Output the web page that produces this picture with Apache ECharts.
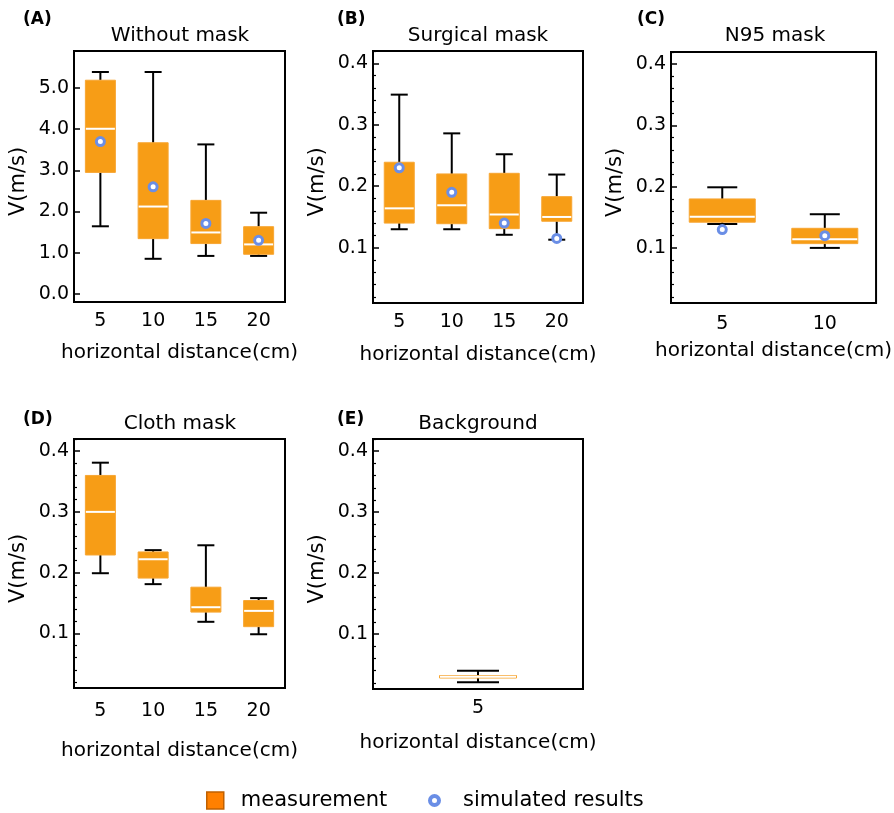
<!DOCTYPE html>
<html>
<head>
<meta charset="utf-8">
<script src="https://cdn.jsdelivr.net/npm/echarts@6/dist/echarts.min.js"></script>
<style>
html,body{margin:0;padding:0;background:#fff;}
#chart{width:894px;height:813px;}
</style>
</head>
<body>
<div id="chart"></div>
<script>
// ---------------- data ----------------
const cats4 = ['5', '10', '15', '20'];
const cats2 = ['5', '10'];
const cats1 = ['5'];

// each row: [lower whisker, Q1, median, Q3, upper whisker]
const withoutMask = [
  [1.64, 2.95, 4.01, 5.19, 5.39],
  [0.85, 1.34, 2.12, 3.67, 5.39],
  [0.92, 1.22, 1.49, 2.27, 3.63],
  [0.92, 0.96, 1.20, 1.63, 1.97]
];
const simWithout = [3.70, 2.60, 1.71, 1.30];

const surgicalMask = [
  [0.130, 0.140, 0.164, 0.239, 0.349],
  [0.130, 0.139, 0.169, 0.220, 0.286],
  [0.121, 0.131, 0.154, 0.221, 0.252],
  [0.113, 0.143, 0.150, 0.183, 0.219]
];
const simSurgical = [0.230, 0.190, 0.140, 0.115];

const n95Mask = [
  [0.139, 0.142, 0.151, 0.180, 0.199],
  [0.100, 0.107, 0.114, 0.132, 0.155]
];
const simN95 = [0.130, 0.120];

const clothMask = [
  [0.199, 0.229, 0.300, 0.360, 0.381],
  [0.181, 0.191, 0.222, 0.234, 0.237],
  [0.119, 0.135, 0.143, 0.176, 0.245],
  [0.0985, 0.111, 0.137, 0.154, 0.158]
];

const background = [
  [0.021, 0.028, 0.030, 0.032, 0.040]
];

const ticksA = [0, 1, 2, 3, 4, 5];
const ticksSmall = [0.1, 0.2, 0.3, 0.4];
const minorSmall = [0.02, 0.04, 0.06, 0.08, 0.12, 0.14, 0.16, 0.18, 0.22, 0.24, 0.26, 0.28, 0.32, 0.34, 0.36, 0.38, 0.42];

const titles = ['Without mask', 'Surgical mask', 'N95 mask', 'Cloth mask', 'Background'];
const letters = ['(A)', '(B)', '(C)', '(D)', '(E)'];
const xName = 'horizontal distance(cm)';
const yName = 'V(m/s)';

// ---------------- layout / style ----------------
const FONT = 'DejaVu Sans';
const ORANGE = '#F79D16';
const BLUE = '#6A8EE6';

const panels = [
  {grid: {left: 74, top: 51, width: 211, height: 251}, cats: cats4, box: withoutMask, sim: simWithout,
   min: -0.2, max: 5.9, ticks: ticksA, minor: null, boxW: 30, capW: 17, labelMargin: 10, nameGap: 41,
   tx: 180, ty: 36, lx: 23, ly: 20},
  {grid: {left: 373, top: 51, width: 210, height: 252}, cats: cats4, box: surgicalMask, sim: simSurgical,
   min: 0.01, max: 0.42, ticks: ticksSmall, minor: minorSmall, boxW: 30, capW: 17, labelMargin: 10, nameGap: 42,
   tx: 478, ty: 36, lx: 337, ly: 20},
  {grid: {left: 671, top: 52, width: 208, height: 251}, cats: cats2, box: n95Mask, sim: simN95,
   min: 0.01, max: 0.42, ticks: ticksSmall, minor: minorSmall, boxW: 66, capW: 30, labelMargin: 12, nameGap: 38,
   tx: 775, ty: 36, lx: 637, ly: 20},
  {grid: {left: 74, top: 439, width: 211, height: 249}, cats: cats4, box: clothMask, sim: null,
   min: 0.01, max: 0.42, ticks: ticksSmall, minor: minorSmall, boxW: 30, capW: 17, labelMargin: 14, nameGap: 53,
   tx: 180, ty: 424, lx: 23, ly: 420},
  {grid: {left: 373, top: 439, width: 210, height: 250}, cats: cats1, box: background, sim: null,
   min: 0.01, max: 0.42, ticks: ticksSmall, minor: minorSmall, boxW: 77, capW: 42, labelMargin: 10, nameGap: 44,
   tx: 478, ty: 424, lx: 337, ly: 420}
];

function makeRender(boxW, capW) {
  return function (params, api) {
    const x = api.value(0);
    const pLow = api.coord([x, api.value(1)]);
    const pQ1 = api.coord([x, api.value(2)]);
    const pMed = api.coord([x, api.value(3)]);
    const pQ3 = api.coord([x, api.value(4)]);
    const pHigh = api.coord([x, api.value(5)]);
    const cx = pLow[0];
    const ls = {stroke: '#000', lineWidth: 2};
    return {
      type: 'group',
      children: [
        {type: 'line', shape: {x1: cx, y1: pHigh[1], x2: cx, y2: pQ3[1]}, style: ls},
        {type: 'line', shape: {x1: cx, y1: pLow[1], x2: cx, y2: pQ1[1]}, style: ls},
        {type: 'line', shape: {x1: cx - capW / 2, y1: pHigh[1], x2: cx + capW / 2, y2: pHigh[1]}, style: ls},
        {type: 'line', shape: {x1: cx - capW / 2, y1: pLow[1], x2: cx + capW / 2, y2: pLow[1]}, style: ls},
        {type: 'rect', shape: {x: cx - boxW / 2, y: pQ3[1], width: boxW, height: pQ1[1] - pQ3[1]},
          style: {fill: ORANGE, stroke: '#F7A633', lineWidth: 1}},
        {type: 'line', shape: {x1: cx - boxW / 2 + 0.5, y1: pMed[1], x2: cx + boxW / 2 - 0.5, y2: pMed[1]},
          style: {stroke: '#fff', lineWidth: 2}}
      ]
    };
  };
}

const grids = [], xAxes = [], yAxes = [], series = [], graphics = [];

panels.forEach((p, i) => {
  grids.push(Object.assign({show: true, borderColor: '#000', borderWidth: 2, backgroundColor: 'transparent'}, p.grid));
  xAxes.push({
    type: 'category', gridIndex: i, data: p.cats, boundaryGap: true,
    axisLine: {onZero: false, lineStyle: {color: '#000', width: 2}},
    axisTick: {alignWithLabel: true, inside: true, length: 5, lineStyle: {color: '#000', width: 1.5}},
    axisLabel: {color: '#000', fontFamily: FONT, fontSize: 19, margin: p.labelMargin},
    splitLine: {show: false},
    name: xName, nameLocation: 'middle', nameGap: p.nameGap,
    nameTextStyle: {color: '#000', fontFamily: FONT, fontSize: 20, verticalAlign: 'top'}
  });
  const yMain = yAxes.length;
  yAxes.push({
    type: 'value', gridIndex: i, min: p.min, max: p.max,
    axisLine: {show: true, onZero: false, lineStyle: {color: '#000', width: 2}},
    axisTick: {show: true, inside: true, length: 6, customValues: p.ticks, lineStyle: {color: '#000', width: 1.5}},
    axisLabel: {color: '#000', fontFamily: FONT, fontSize: 19, margin: 5, customValues: p.ticks,
      formatter: v => Number(v).toFixed(1)},
    splitLine: {show: false},
    name: yName, nameLocation: 'middle', nameGap: 45,
    nameTextStyle: {color: '#000', fontFamily: FONT, fontSize: 21, padding: [0, 10, 0, 0]}
  });
  if (p.minor) {
    yAxes.push({
      type: 'value', gridIndex: i, min: p.min, max: p.max, position: 'left',
      axisLine: {show: false, onZero: false},
      axisTick: {show: true, inside: true, length: 3, customValues: p.minor, lineStyle: {color: '#000', width: 1.2}},
      axisLabel: {show: false},
      splitLine: {show: false}
    });
  }
  series.push({
    type: 'custom', name: 'measurement', xAxisIndex: i, yAxisIndex: yMain,
    renderItem: makeRender(p.boxW, p.capW),
    encode: {x: 0, y: [1, 2, 3, 4, 5]},
    itemStyle: {color: ORANGE},
    data: p.box.map((r, k) => [k].concat(r)),
    z: 2
  });
  if (p.sim) {
    series.push({
      type: 'scatter', name: 'simulated results', xAxisIndex: i, yAxisIndex: yMain,
      symbol: 'circle', symbolSize: 8,
      itemStyle: {color: '#fff', borderColor: BLUE, borderWidth: 3, opacity: 1},
      data: p.sim.map((v, k) => [k, v]),
      z: 5
    });
  }
  graphics.push({
    type: 'text', x: p.tx, y: p.ty,
    style: {text: titles[i], fill: '#000', fontFamily: FONT, fontSize: 20, textAlign: 'center', textVerticalAlign: 'middle'}
  });
  graphics.push({
    type: 'text', x: p.lx, y: p.ly,
    style: {text: letters[i], fill: '#000', fontFamily: FONT, fontSize: 17, fontWeight: 'bold', textAlign: 'left', textVerticalAlign: 'middle'}
  });
});

const chart = echarts.init(document.getElementById('chart'), null, {renderer: 'canvas'});
chart.setOption({
  backgroundColor: '#fff',
  animation: false,
  grid: grids,
  xAxis: xAxes,
  yAxis: yAxes,
  legend: [
    {
      left: 206, top: 790, padding: 0, itemWidth: 17, itemHeight: 17, selectedMode: false,
      data: [{name: 'measurement', icon: 'rect', itemStyle: {color: '#FF8000', borderColor: '#C06000', borderWidth: 1.5}}],
      textStyle: {color: '#000', fontFamily: FONT, fontSize: 21, padding: [0, 0, 0, 12]}
    },
    {
      left: 428, top: 790, padding: 0, itemWidth: 9, itemHeight: 9, selectedMode: false,
      data: [{name: 'simulated results', icon: 'circle', itemStyle: {color: '#fff', borderColor: BLUE, borderWidth: 4}}],
      textStyle: {color: '#000', fontFamily: FONT, fontSize: 21, padding: [0, 0, 0, 19]}
    }
  ],
  graphic: graphics,
  series: series
});
</script>
</body>
</html>
